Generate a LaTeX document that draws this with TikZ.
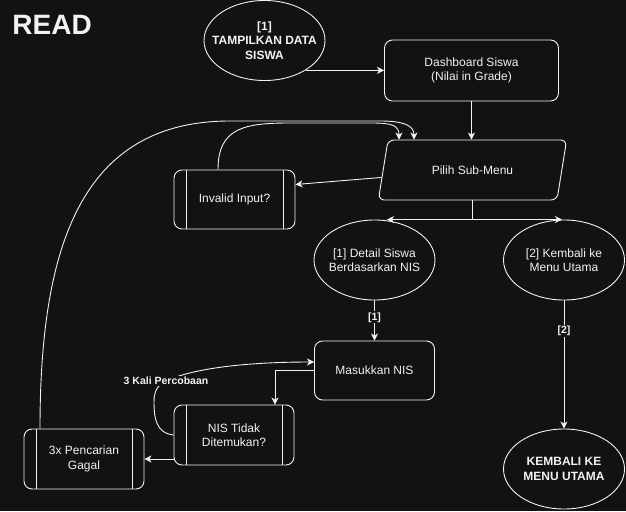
\documentclass[tikz,border=0pt]{standalone}
\usepackage{fontspec}
\setmainfont{Liberation Sans}
\usetikzlibrary{shapes.geometric, arrows.meta, calc, positioning}
\definecolor{bg}{HTML}{121212}
\definecolor{fg}{HTML}{F2F2F2}
\newcommand{\txt}{\fontsize{12}{14.5}\selectfont}

\begin{document}
\begin{tikzpicture}[x=1pt, y=-1pt, color=fg, line width=0.9pt,
	every node/.style={text=fg, font=\txt, align=center},
	box/.style={draw=fg, fill=bg, rounded corners=8pt, minimum width=120pt, minimum height=60pt, inner sep=2pt},
	proc/.style={box, path picture={
		\draw[fg] ([xshift=12pt]path picture bounding box.north west) -- ([xshift=12pt]path picture bounding box.south west)
			([xshift=-12pt]path picture bounding box.north east) -- ([xshift=-12pt]path picture bounding box.south east);}},
	oval/.style={draw=fg, fill=bg, ellipse, minimum width=121pt, minimum height=80pt, inner xsep=-12pt, inner ysep=0pt},
	bold/.style={font=\txt\bfseries},
	lbl/.style={fill=bg, inner sep=1pt, font=\fontsize{10.5}{12}\selectfont\bfseries},
	arr/.style={draw=fg, -{Stealth[length=7pt, width=7pt, inset=2pt]}}]
	\fill[bg] (0,0) rectangle (626,511);
	\useasboundingbox (0,0) rectangle (626,511);
	
	\node[font=\fontsize{28}{30}\selectfont\bfseries, anchor=west, inner sep=0pt] (read) at (12,25) {READ};
	\node[oval, bold] (tampil) at (264.5,40.5) {[1]\\TAMPILKAN DATA\\SISWA};
	\node[box, minimum width=174pt, minimum height=61pt] (dash) at (471.5,70.5) {Dashboard Siswa\\(Nilai in Grade)};
	\node[draw=fg, fill=bg, trapezium, trapezium left angle=72, trapezium right angle=108, trapezium stretches,
		minimum width=190pt, minimum height=60pt, rounded corners=6pt] (pilih) at (472.5,170) {Pilih Sub-Menu};
	\node[proc, minimum width=121pt, minimum height=59pt] (invalid) at (234.5,199.5) {Invalid Input?};
	\node[oval] (detail) at (374.5,260) {[1] Detail Siswa\\Berdasarkan NIS};
	\node[oval] (kembali) at (564,260) {[2] Kembali ke\\Menu Utama};
	\node[box, minimum height=59pt] (masuk) at (374.5,370.5) {Masukkan NIS};
	\node[proc] (tidak) at (234,435) {NIS Tidak\\Ditemukan?};
	\node[proc] (gagal) at (84,459) {3x Pencarian\\Gagal};
	\node[oval, bold] (menu) at (564,469) {KEMBALI KE\\MENU UTAMA};
	
	\draw[arr] (tampil.-36) -- (tampil.-36 -| dash.west);
	\draw[arr] (dash.south) -- (dash.south |- pilih.north);
	\draw[arr] (pilih) -- ([yshift=15pt]invalid.east);
	\draw[arr] ([xshift=-16.5pt]invalid.north) .. controls +(0,-42) and +(-45,0) .. (290,123) -- (372,123)
		.. controls +(20,0) and +(0,-14) .. ([xshift=-73.5pt]pilih.north);
	\draw[arr] ([xshift=-44pt]gagal.north) .. controls +(0,-180) and +(-150,0) .. (230,121) -- (380,121)
		.. controls +(24,0) and +(0,-14) .. ([xshift=-58.5pt]pilih.north);
	\draw[arr] (pilih.south) |- ([xshift=12.5pt]detail.north);
	\draw[arr] (pilih.south) |- ([xshift=-2pt]kembali.north);
	\draw[arr] (detail) -- node[lbl, pos=0.42] {[1]} (masuk);
	\draw[arr] (kembali) -- node[lbl, pos=0.24] {[2]} (menu);
	\draw[arr] (masuk.west) -| ([xshift=41pt]tidak.north);
	\draw[arr] (tidak.west |- gagal.east) -- (gagal.east);
	\draw[arr] (tidak.west) .. controls +(-18,-2) and +(0,15) .. (154,402)
		.. controls +(0,-12) and +(-8,4) .. (166,381) node[lbl] {3 Kali Percobaan}
		.. controls +(30,-14) and +(-60,0) .. ([yshift=8.5pt]masuk.west);
\end{tikzpicture}
\end{document}
